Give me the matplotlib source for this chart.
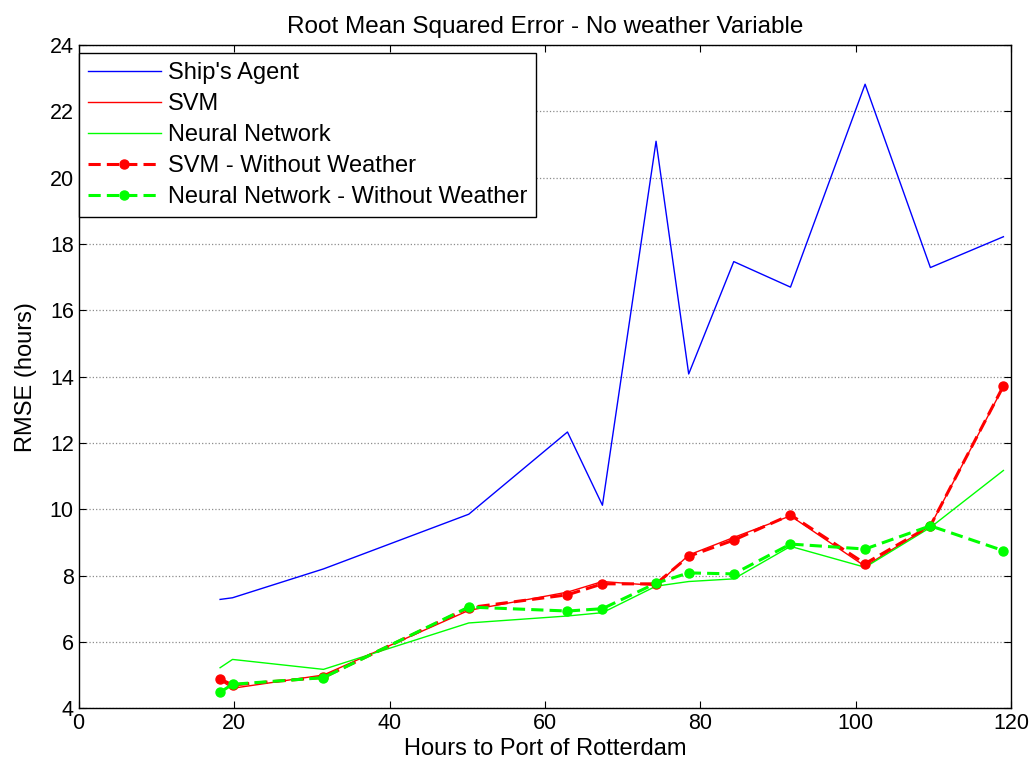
import matplotlib.pyplot as plt

plt.rcParams['font.family'] = ['Liberation Sans', 'DejaVu Sans']

hours = [18.2, 19.8, 31.5, 50.2, 62.9, 67.4, 74.3, 78.5, 84.3, 91.6, 101.2, 109.6, 119.0]
ship_agent = [7.28, 7.33, 8.2, 9.85, 12.33, 10.12, 21.1, 14.08, 17.47, 16.7, 22.82, 17.29, 18.22]
svm = [4.85, 4.6, 5.0, 6.95, 7.5, 7.82, 7.7, 8.62, 9.15, 9.8, 8.28, 9.5, 13.7]
neural_net = [5.22, 5.47, 5.17, 6.57, 6.78, 6.88, 7.68, 7.82, 7.9, 8.88, 8.25, 9.45, 11.17]
svm_no_weather = [4.88, 4.7, 4.93, 7.03, 7.42, 7.75, 7.75, 8.58, 9.07, 9.83, 8.36, 9.5, 13.72]
nn_no_weather = [4.48, 4.72, 4.92, 7.05, 6.93, 7.0, 7.77, 8.08, 8.05, 8.95, 8.8, 9.5, 8.75]

fig = plt.figure(figsize=(10.35, 7.71), dpi=100)
ax = fig.add_axes([0.076, 0.0815, 0.901, 0.86])

ax.plot(hours, ship_agent, color='#0000ff', lw=1.0, label="Ship's Agent")
ax.plot(hours, svm, color='#ff0000', lw=1.0, label='SVM')
ax.plot(hours, neural_net, color='#00ff00', lw=1.0, label='Neural Network')
ax.plot(hours, svm_no_weather, color='#ff0000', lw=2.2, ls='--', marker='o', ms=6.5,
        dashes=(4, 2), label='SVM - Without Weather')
ax.plot(hours, nn_no_weather, color='#00ff00', lw=2.2, ls='--', marker='o', ms=6.5,
        dashes=(4, 2), label='Neural Network - Without Weather')

ax.set_xlim(0, 120)
ax.set_ylim(4, 24)
ax.set_xticks(range(0, 121, 20))
ax.set_yticks(range(4, 25, 2))
ax.yaxis.grid(True, color='0.55', lw=0.9, ls=':')
ax.set_axisbelow(True)
ax.tick_params(direction='in', top=True, right=True, length=5, labelsize=15.5)
for s in ax.spines.values():
    s.set_linewidth(1.0)

ax.set_title('Root Mean Squared Error - No weather Variable', fontsize=17.5, pad=9)
ax.set_xlabel('Hours to Port of Rotterdam', fontsize=17, labelpad=3)
ax.set_ylabel('RMSE (hours)', fontsize=17, labelpad=9)

leg = ax.legend(loc='upper left', bbox_to_anchor=(0.0, 0.988), fontsize=17,
                fancybox=False, framealpha=1, edgecolor='black', borderaxespad=0,
                handlelength=3.1, handletextpad=0.3, labelspacing=0.38,
                borderpad=0.38)
leg.get_frame().set_linewidth(1.0)

fig.savefig('out.png', dpi=100)
